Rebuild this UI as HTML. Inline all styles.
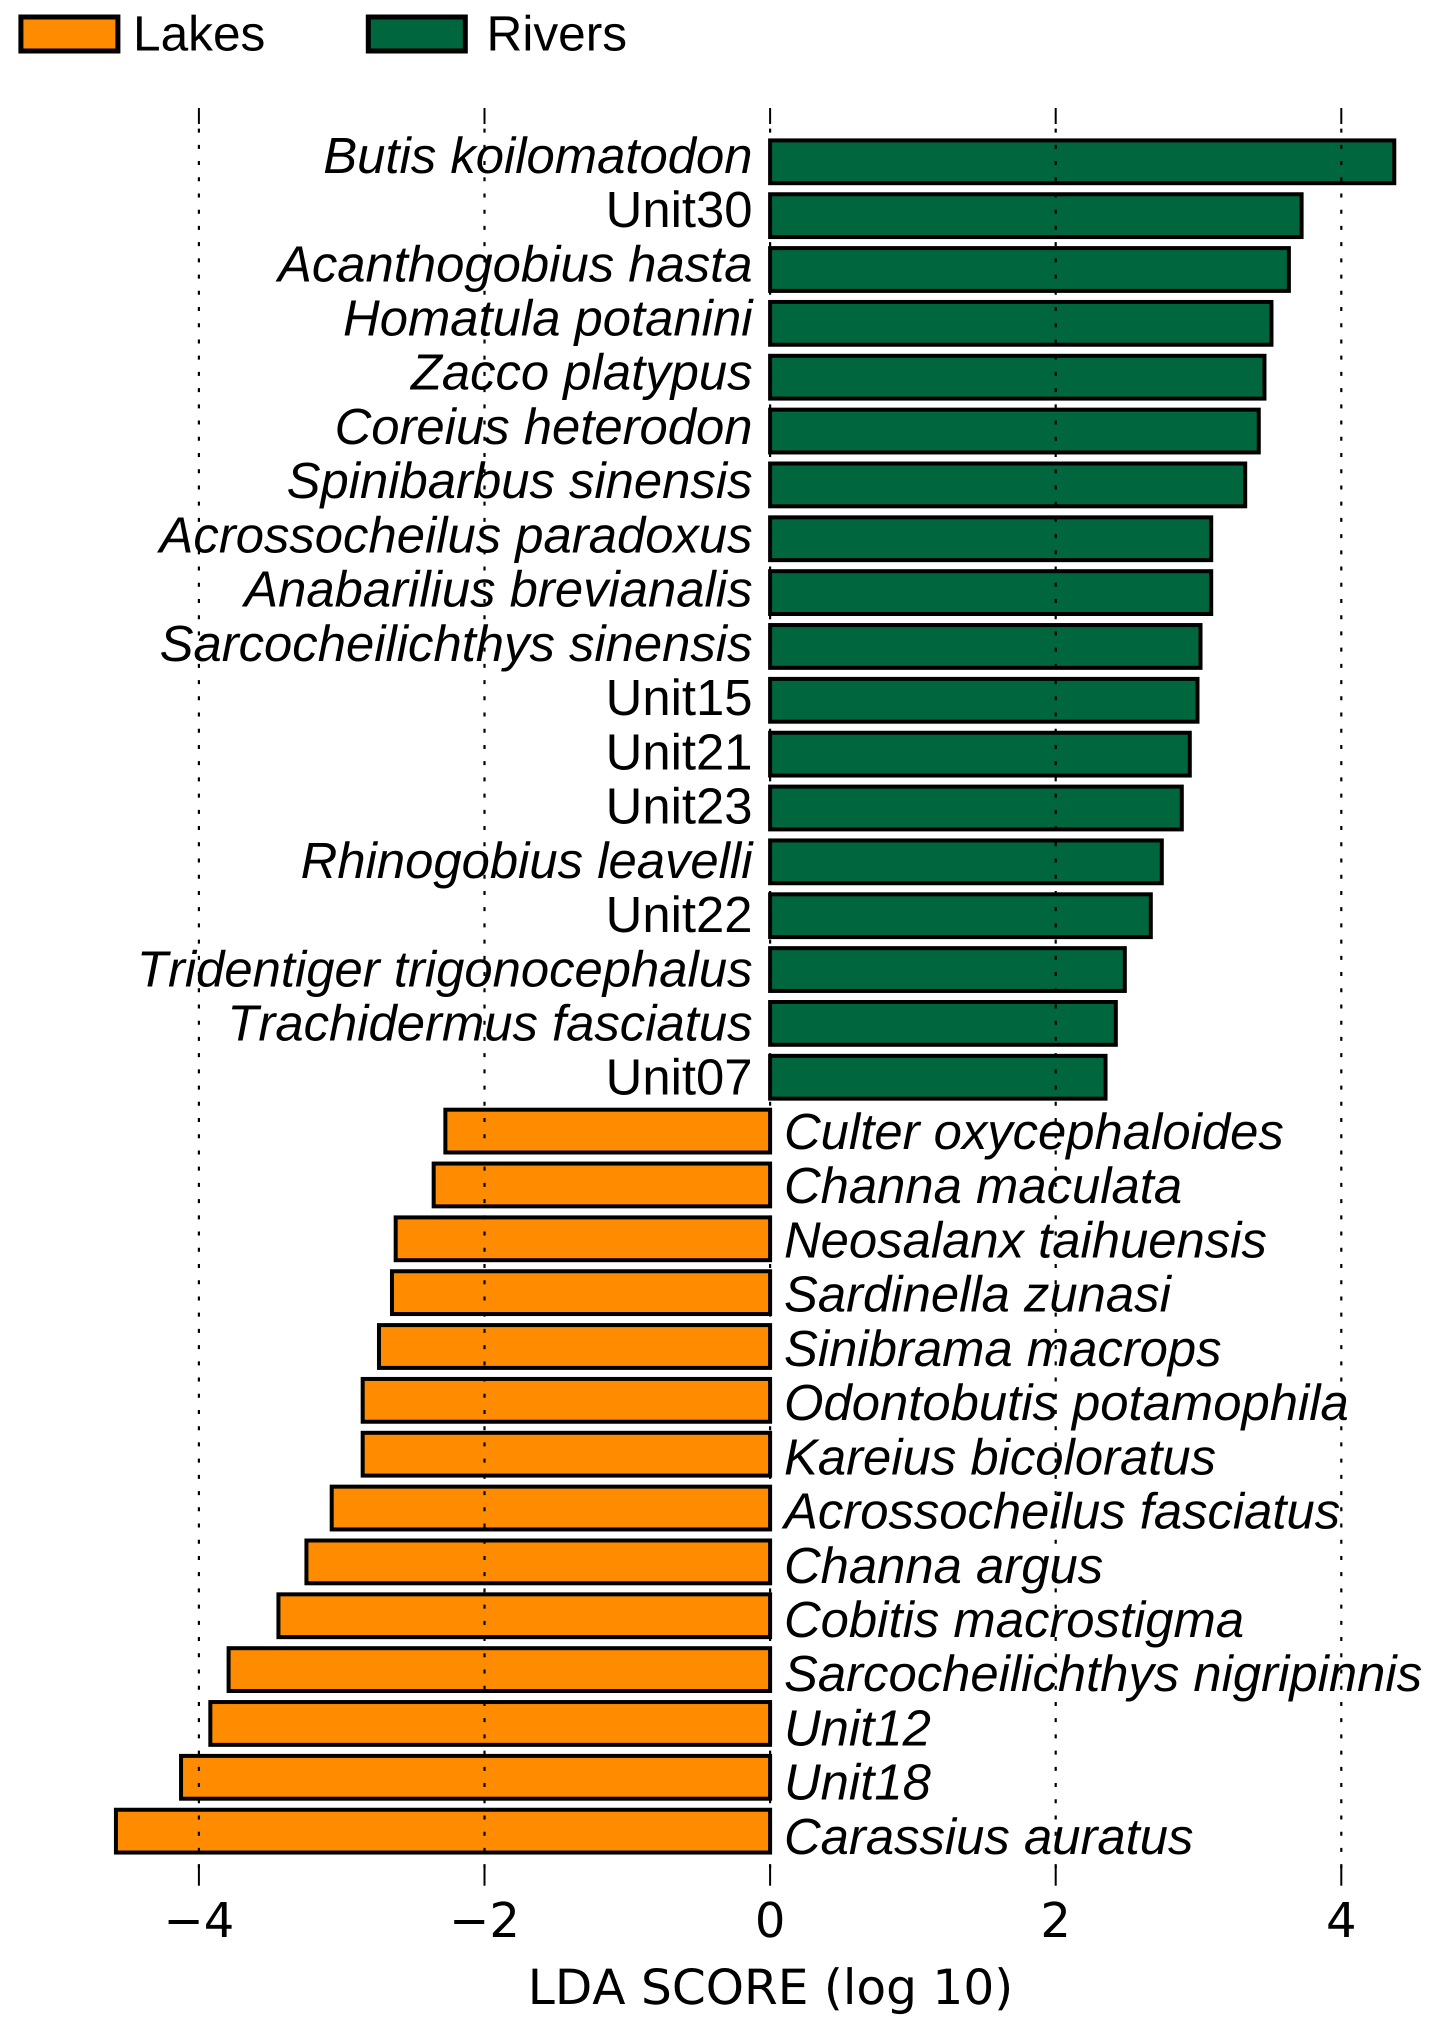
<!DOCTYPE html>
<html lang="en">
<head>
<meta charset="utf-8">
<title>LDA Score Chart</title>
<style>
html,body{margin:0;padding:0;background:#fff;width:1434px;height:2030px;overflow:hidden}
svg{display:block}
text{font-kerning:none;text-rendering:geometricPrecision}
.lab{font-family:"Liberation Sans",Arial,sans-serif;font-size:50.8px;fill:#000}
.leg{font-family:"Liberation Sans",Arial,sans-serif;font-size:49.6px;fill:#000}
.tick{font-family:"DejaVu Sans",sans-serif;font-size:48px;fill:#000}
.title{font-family:"DejaVu Sans",sans-serif;font-size:48.6px;fill:#000}
</style>
</head>
<body>
<svg id="chart" xmlns="http://www.w3.org/2000/svg" width="1434" height="2030" viewBox="0 0 1434 2030">
  <rect x="0" y="0" width="1434" height="2030" fill="#ffffff"/>
  <g>
    <rect x="20.9" y="17" width="97" height="34" fill="#ff8c00" stroke="#000" stroke-width="5"/>
    <text class="leg" x="133" y="50.7">Lakes</text>
    <rect x="368.3" y="17" width="97" height="34" fill="#00663e" stroke="#000" stroke-width="5"/>
    <text class="leg" x="486.5" y="50.7">Rivers</text>
  </g>
  <g id="bars"></g>
  <g id="grid"></g>
  <g id="labels"></g>
  <g id="axis"></g>
  <text class="title" x="770.5" y="2004" text-anchor="middle">LDA SCORE (log 10)</text>
</svg>
<script>
const categories = [
  "Butis koilomatodon","Unit30","Acanthogobius hasta","Homatula potanini","Zacco platypus",
  "Coreius heterodon","Spinibarbus sinensis","Acrossocheilus paradoxus","Anabarilius brevianalis",
  "Sarcocheilichthys sinensis","Unit15","Unit21","Unit23","Rhinogobius leavelli","Unit22",
  "Tridentiger trigonocephalus","Trachidermus fasciatus","Unit07",
  "Culter oxycephaloides","Channa maculata","Neosalanx taihuensis","Sardinella zunasi",
  "Sinibrama macrops","Odontobutis potamophila","Kareius bicoloratus","Acrossocheilus fasciatus",
  "Channa argus","Cobitis macrostigma","Sarcocheilichthys nigripinnis","Unit12","Unit18","Carassius auratus"
];
const scores = [
  4.371,3.722,3.633,3.511,3.462,3.422,3.327,3.089,3.089,3.014,2.993,2.939,2.883,2.743,2.666,2.484,2.421,2.349,
  -2.274,-2.356,-2.622,-2.648,-2.739,-2.853,-2.853,-3.070,-3.247,-3.443,-3.792,-3.920,-4.125,-4.581
];
const uprightLabels = ["Unit30","Unit15","Unit21","Unit23","Unit22","Unit07"];
const tickValues = [-4,-2,0,2,4];
const tickLabels = ["\u22124","\u22122","0","2","4"];

const SVGNS = "http://www.w3.org/2000/svg";
const xOf = v => 770.1 + v * 142.8;
const barCenter = i => 161.8 + i * 53.85;
const labelBaseline = i => 172.8 + i * 54.23;
const barHeight = 42.8;
const strokeW = 4;

function make(tag, attrs, parent) {
  const el = document.createElementNS(SVGNS, tag);
  for (const k in attrs) el.setAttribute(k, attrs[k]);
  parent.appendChild(el);
  return el;
}

const barsG = document.getElementById("bars");
const labelsG = document.getElementById("labels");
scores.forEach((v, i) => {
  const slug = categories[i].toLowerCase().replace(/\s+/g, "-");
  const x1 = Math.min(xOf(0), xOf(v));
  const x2 = Math.max(xOf(0), xOf(v));
  const bar = make("rect", {
    x: x1, y: barCenter(i) - barHeight / 2, width: x2 - x1, height: barHeight,
    fill: v >= 0 ? "#00663e" : "#ff8c00", stroke: "#000", "stroke-width": strokeW
  }, barsG);
  
  

  const t = make("text", {
    class: "lab",
    x: v >= 0 ? 752.5 : 784,
    y: labelBaseline(i),
    "text-anchor": v >= 0 ? "end" : "start",
    "font-style": uprightLabels.includes(categories[i]) ? "normal" : "italic"
  }, labelsG);
  t.textContent = categories[i];
  
  
});

const gridG = document.getElementById("grid");
const axisG = document.getElementById("axis");
tickValues.forEach((v, i) => {
  const x = xOf(v);
  const g = make("line", {
    x1: x, x2: x, y1: 128.6, y2: 1869,
    stroke: "#000", "stroke-width": 2.2, "stroke-dasharray": "4 12.22"
  }, gridG);
  
  

  const top = make("line", { x1: x, x2: x, y1: 108, y2: 124, stroke: "#000", "stroke-width": 2 }, axisG);
  
  

  const bot = make("line", { x1: x, x2: x, y1: 1866, y2: 1885.7, stroke: "#000", "stroke-width": 2 }, axisG);
  
  

  const lab = make("text", { class: "tick", x: x, y: 1937, "text-anchor": "middle" }, axisG);
  lab.textContent = tickLabels[i];
  
  
});
</script>
</body>
</html>
